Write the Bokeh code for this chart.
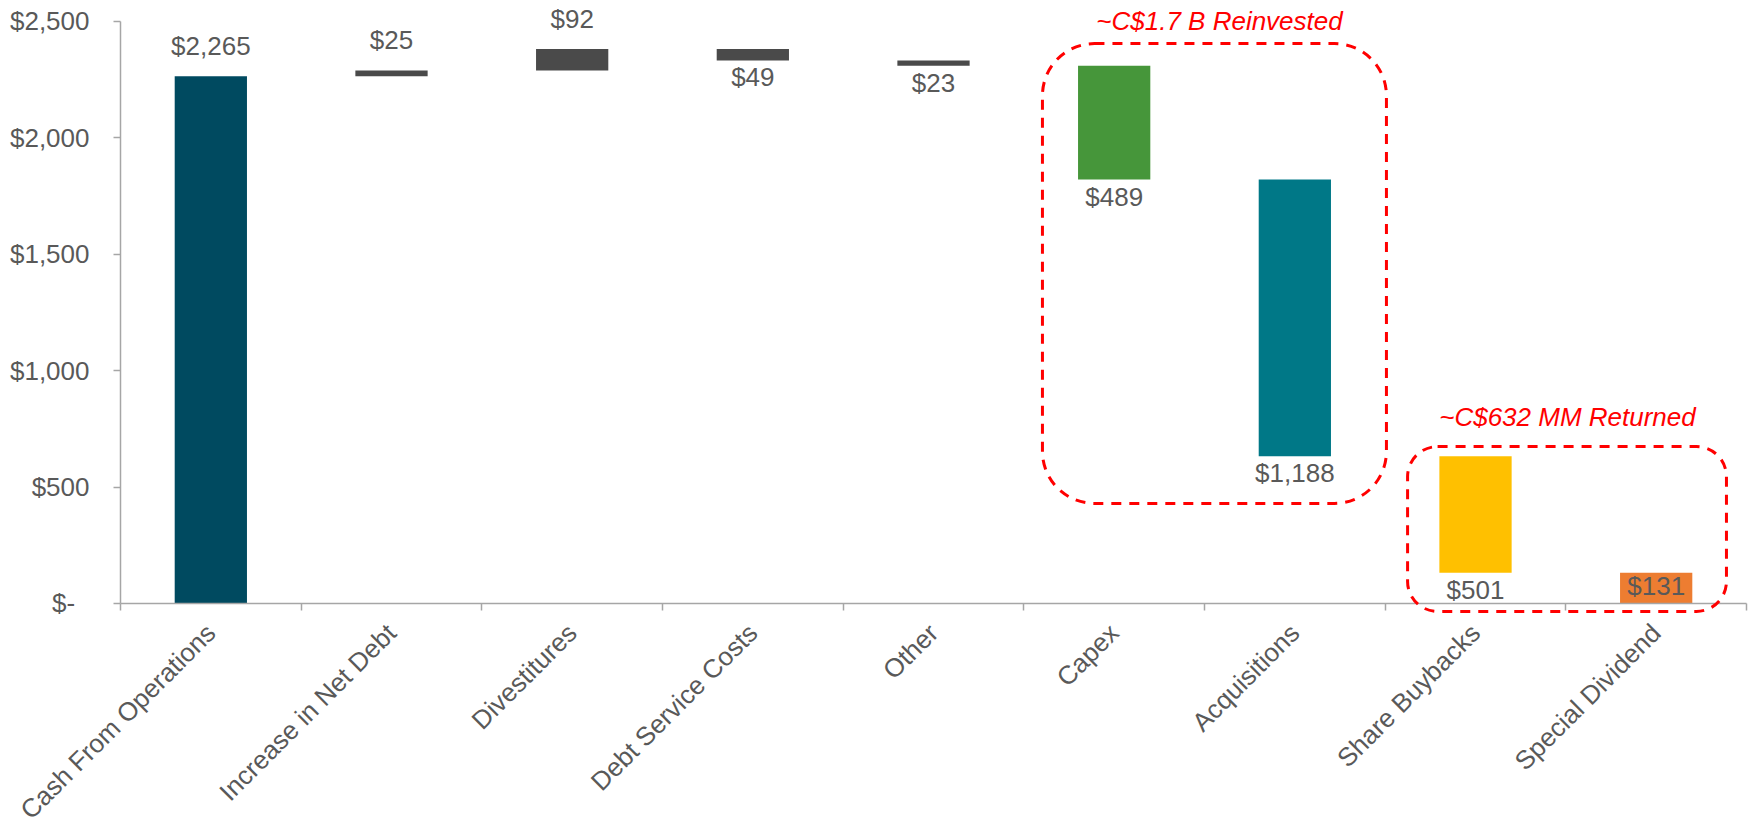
import math
from bokeh.plotting import figure
from bokeh.models import (ColumnDataSource, Range1d, FixedTicker, BoxAnnotation, Label)
from bokeh.core.properties import value
from bokeh.embed import file_html
from bokeh.resources import INLINE

# ---- data ----
categories = ["Cash From Operations", "Increase in Net Debt", "Divestitures",
              "Debt Service Costs", "Other", "Capex", "Acquisitions",
              "Share Buybacks", "Special Dividend"]
changes = [2265, 25, 92, -49, -23, -489, -1188, -501, -131]
bar_colors = ["#004A60", "#4A4A4A", "#4A4A4A", "#4A4A4A", "#4A4A4A",
              "#46963A", "#007887", "#FFC000", "#ED7D31"]
y_ticks = [0, 500, 1000, 1500, 2000, 2500]
y_tick_labels = ["$-\u00a0\u00a0", "$500", "$1,000", "$1,500", "$2,000", "$2,500"]
reinvested_caption = "~C$1.7 B Reinvested"
returned_caption = "~C$632 MM Returned"

FONT = "Liberation Sans"
TXT = "#595959"
AXIS = "#A6A6A6"

# ---- waterfall geometry ----
xs, bottoms, tops, label_y, label_off, labels = [], [], [], [], [], []
running = 0
for i, ch in enumerate(changes):
    start = running
    end = running + ch
    running = end
    xs.append(i + 0.5)
    bottoms.append(min(start, end))
    tops.append(max(start, end))
    labels.append("${:,}".format(abs(ch)))
    if ch >= 0:
        label_y.append(end)
        label_off.append(-30)
    elif end < 100:
        label_y.append(start)
        label_off.append(13)
    else:
        label_y.append(end)
        label_off.append(17)

src = ColumnDataSource(dict(x=xs, bottom=bottoms, top=tops, color=bar_colors,
                            ly=label_y, loff=label_off, label=labels))

# frame covers the whole canvas; both axes are pinned at the data origin
p = figure(width=1748, height=829, output_backend="svg", toolbar_location=None,
           x_range=Range1d(-0.6642, 9.011), y_range=Range1d(-970.8, 2590.2),
           min_border_left=0, min_border_right=0, min_border_top=0,
           min_border_bottom=0)
p.outline_line_color = None
p.xgrid.grid_line_color = None
p.ygrid.grid_line_color = None
p.background_fill_color = "white"
p.border_fill_color = "white"

p.vbar(x="x", bottom="bottom", top="top", width=0.4, color="color",
       line_color=None, source=src)

p.text(x="x", y="ly", text="label", y_offset="loff", source=src,
       text_align="center", text_baseline="middle",
       text_font=value(FONT), text_font_size="26px", text_color=TXT)

# ---- axes ----
xa = p.xaxis[0]
xa.fixed_location = 0
xa.bounds = (0, 9)
xa.ticker = FixedTicker(ticks=xs, minor_ticks=list(range(0, 10)))
xa.major_label_overrides = {x: c for x, c in zip(xs, categories)}
xa.major_label_orientation = math.pi / 4
xa.major_tick_in = 0
xa.major_tick_out = 0
xa.minor_tick_in = 0
xa.minor_tick_out = 7
xa.minor_tick_line_color = AXIS
xa.minor_tick_line_width = 1.5
xa.axis_line_color = AXIS
xa.axis_line_width = 1.5
xa.major_label_text_font = FONT
xa.major_label_text_font_size = "26px"
xa.major_label_text_color = TXT
xa.major_label_standoff = 18

ya = p.yaxis[0]
ya.fixed_location = 0
ya.ticker = FixedTicker(ticks=y_ticks)
ya.major_label_overrides = {t: l for t, l in zip(y_ticks, y_tick_labels)}
ya.bounds = (0, 2500)
ya.major_tick_in = 0
ya.major_tick_out = 7
ya.major_tick_line_color = AXIS
ya.major_tick_line_width = 1.5
ya.minor_tick_line_color = None
ya.axis_line_color = AXIS
ya.axis_line_width = 1.5
ya.major_label_text_font = FONT
ya.major_label_text_font_size = "26px"
ya.major_label_text_color = TXT
ya.major_label_standoff = 24

# ---- annotation boxes ----
box1 = BoxAnnotation(left=5.103, right=7.007, top=2405, bottom=430,
                     fill_alpha=0, line_color="#FF0000", line_alpha=1.0,
                     line_width=3, line_dash="10 8", border_radius=52)
box2 = BoxAnnotation(left=7.124, right=8.889, top=674, bottom=-34,
                     fill_alpha=0, line_color="#FF0000", line_alpha=1.0,
                     line_width=3, line_dash="10 8", border_radius=30)
p.add_layout(box1)
p.add_layout(box2)

p.add_layout(Label(x=6.083, y=2504, text=reinvested_caption,
                   text_align="center", text_baseline="middle",
                   text_font=FONT, text_font_size="26px",
                   text_font_style="italic", text_color="#FF0000"))
p.add_layout(Label(x=8.009, y=803, text=returned_caption,
                   text_align="center", text_baseline="middle",
                   text_font=FONT, text_font_size="26px",
                   text_font_style="italic", text_color="#FF0000"))

open("out.html", "w").write(file_html(p, INLINE))
